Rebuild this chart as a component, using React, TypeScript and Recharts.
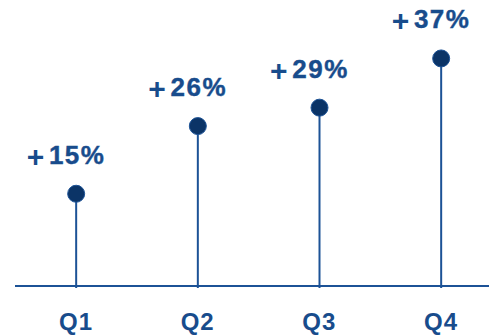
import React from 'react';
import { BarChart, Bar, XAxis, YAxis, LabelList } from 'recharts';

const quarters = ['Q1', 'Q2', 'Q3', 'Q4'];
const growth = [15, 26, 29, 37];

const data = quarters.map((q, i) => ({ quarter: q, growth: growth[i] }));

const BLUE = '#1c5296';
const DARK = '#0b3467';
const TEXT = '#184c8c';
const FONT = '"Liberation Sans", Arial, sans-serif';

function Lollipop(props: any) {
  const { x, y, width, height } = props;
  const cx = x + width / 2;
  return (
    <g>
      <line x1={cx} y1={y} x2={cx} y2={y + height + 2} stroke={BLUE} strokeWidth={2} />
      <circle cx={cx} cy={y} r={8.5} fill={DARK} stroke={BLUE} strokeWidth={1} />
    </g>
  );
}

function GrowthLabel(props: any) {
  const { x, y, width, value } = props;
  const cx = x + width / 2;
  return (
    <g fontFamily={FONT} fontWeight="bold" fill={TEXT}>
      <text x={cx + 1} y={y - 30} textAnchor="middle" fontSize={26} letterSpacing={1.5} stroke={TEXT} strokeWidth={0.4}>
        {value}%
      </text>
      <text x={cx - 32} y={y - 30 + 3} textAnchor="end" fontSize={30}>
        +
      </text>
    </g>
  );
}

export default function App() {
  return (
    <div style={{ position: 'absolute', left: 0, top: 0, width: 489, height: 336, background: '#fff' }}>
      <BarChart width={489} height={336} data={data} margin={{ top: 40, right: 0, bottom: 0, left: 15 }}>
        <XAxis
          dataKey="quarter"
          scale="point"
          padding={{ left: 61, right: 48 }}
          axisLine={{ stroke: BLUE, strokeWidth: 2 }}
          tickLine={false}
          tickMargin={21}
          height={50}
          tick={{ fill: TEXT, fontSize: 24, fontWeight: 'bold', fontFamily: FONT, letterSpacing: 1 }}
        />
        <YAxis hide domain={[0, 40]} />
        <Bar dataKey="growth" barSize={10} shape={<Lollipop />} isAnimationActive={false}>
          <LabelList dataKey="growth" content={<GrowthLabel />} />
        </Bar>
      </BarChart>
    </div>
  );
}
